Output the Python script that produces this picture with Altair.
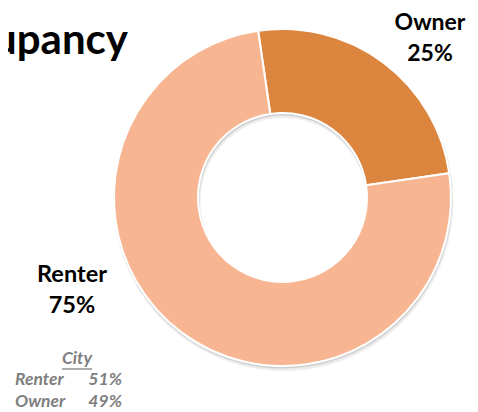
import math
import altair as alt
import pandas as pd

# ---- data ----
categories = ["Owner", "Renter"]
shares = [25, 75]
slice_labels = ["Owner\n25%", "Renter\n75%"]
city_categories = ["Renter", "Owner"]
city_shares = ["51%", "49%"]
city_header = ["City"]
title_text = ["Housing\nOccupancy"]

colors = ["#DC853F", "#F7B592"]

W, H = 462, 404
CX, CY = 274.5, 189.5
R_OUT, R_IN = 168.5, 84.5
START = -0.145

pie_df = pd.DataFrame({"cat": categories, "share": shares, "order": [0, 1]})

theta_enc = alt.Theta("share:Q", stack=True,
                      scale=alt.Scale(range=[START, START + 2 * math.pi]))

shadow1 = alt.Chart(pie_df).mark_arc(
    outerRadius=R_OUT + 1.5, innerRadius=R_IN - 1.5, color="#000000",
    opacity=0.07
).encode(theta=theta_enc, order=alt.Order("order:Q"),
         x=alt.value(CX + 1), y=alt.value(CY + 3.5))

shadow2 = alt.Chart(pie_df).mark_arc(
    outerRadius=R_OUT + 0.8, innerRadius=R_IN - 0.8, color="#000000",
    opacity=0.12
).encode(theta=theta_enc, order=alt.Order("order:Q"),
         x=alt.value(CX + 0.5), y=alt.value(CY + 1.8))

donut = alt.Chart(pie_df).mark_arc(
    outerRadius=R_OUT, innerRadius=R_IN, stroke="white", strokeWidth=2
).encode(
    theta=theta_enc,
    color=alt.Color("cat:N", scale=alt.Scale(domain=categories, range=colors),
                    legend=None),
    order=alt.Order("order:Q"),
    x=alt.value(CX), y=alt.value(CY),
)

# multi-line text: y is the position of the first line
owner_lbl = alt.Chart(pd.DataFrame({"t": [slice_labels[0]]})).mark_text(
    font="Lato", fontWeight="bold", fontSize=23, lineBreak="\n",
    lineHeight=31, align="center", baseline="middle", color="#000000"
).encode(text="t:N", x=alt.value(422), y=alt.value(14.5))

renter_lbl = alt.Chart(pd.DataFrame({"t": [slice_labels[1]]})).mark_text(
    font="Lato", fontWeight="bold", fontSize=23.5, lineBreak="\n",
    lineHeight=31, align="center", baseline="middle", color="#000000"
).encode(text="t:N", x=alt.value(64), y=alt.value(267))

title = alt.Chart(pd.DataFrame({"t": title_text})).mark_text(
    font="Lato", fontWeight="bold", fontSize=42, lineBreak="\n",
    lineHeight=57, align="right", baseline="alphabetic", color="#000000"
).encode(text="t:N", x=alt.value(120), y=alt.value(-11))

city_hdr = alt.Chart(pd.DataFrame({"t": city_header})).mark_text(
    font="Lato", fontWeight="bold", fontStyle="italic", fontSize=17.5,
    align="center", baseline="middle", color="#7F7F7F"
).encode(text="t:N", x=alt.value(69), y=alt.value(351))

city_line = alt.Chart(pd.DataFrame({"t": city_header})).mark_rule(
    color="#7F7F7F", strokeWidth=1.3
).encode(x=alt.value(54), x2=alt.value(84), y=alt.value(361))

city_df = pd.DataFrame({"cat": city_categories, "val": city_shares})
row_y = alt.Y("cat:N", axis=None,
              scale=alt.Scale(type="point", domain=city_categories,
                              range=[372, 394], padding=0))

city_names = alt.Chart(city_df).mark_text(
    font="Lato", fontWeight="bold", fontStyle="italic", fontSize=17.5,
    align="left", baseline="middle", color="#7F7F7F"
).encode(text="cat:N", y=row_y, x=alt.value(7))

city_vals = alt.Chart(city_df).mark_text(
    font="Lato", fontWeight="bold", fontStyle="italic", fontSize=17.5,
    align="right", baseline="middle", color="#7F7F7F"
).encode(text="val:N", y=row_y, x=alt.value(114))

chart = alt.layer(
    shadow1, shadow2, donut, owner_lbl, renter_lbl, title,
    city_hdr, city_line, city_names, city_vals
).properties(
    width=W, height=H, autosize=alt.AutoSizeParams(type="none"), padding=0,
    background="white"
).configure_view(stroke=None)

chart.save("out.html", embed_options={"renderer": "svg", "actions": False})
